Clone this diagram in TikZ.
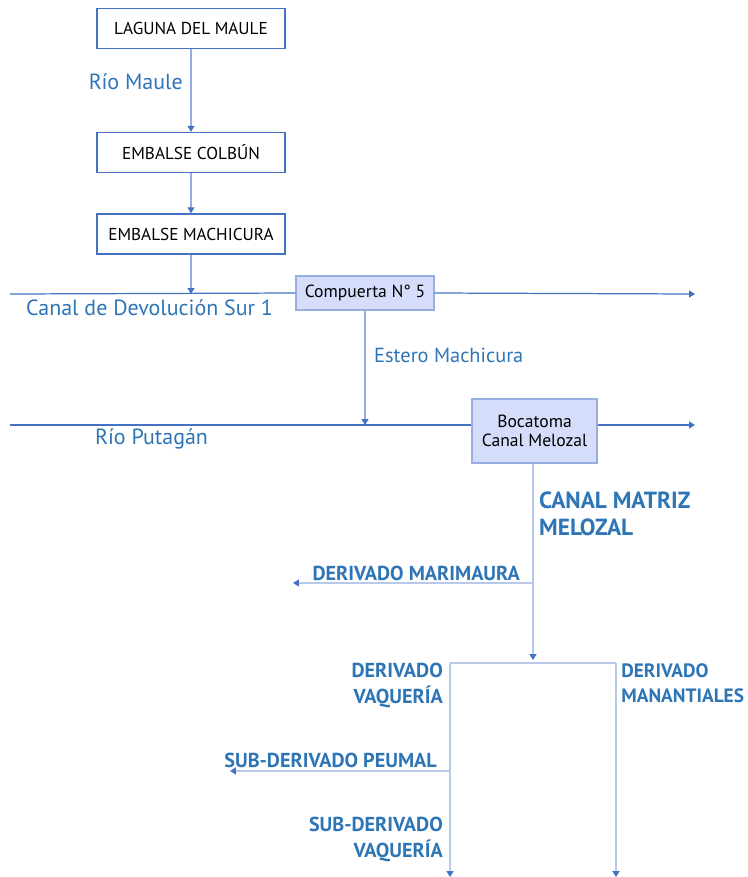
\documentclass[tikz,border=0pt]{standalone}
\usepackage{fontspec}
\setmainfont{PT Sans}
\usetikzlibrary{arrows.meta, positioning}

\definecolor{riverblue}{RGB}{68,114,196}
\definecolor{palelink}{RGB}{150,175,224}
\definecolor{fadelink}{RGB}{184,201,234}
\definecolor{labelblue}{RGB}{46,117,182}
\definecolor{gatefill}{RGB}{214,221,250}

\tikzset{
  station/.style = {draw=riverblue, line width=0.8pt, fill=white,
    minimum width=3.76cm, minimum height=0.8cm, font=\fontsize{9.8}{11}\selectfont},
  gate/.style = {draw=palelink, line width=0.8pt, fill=gatefill, align=center,
    font=\fontsize{10}{11}\selectfont},
  river/.style = {draw=riverblue, line width=0.7pt},
  link/.style = {draw=palelink, line width=0.7pt},
  branch/.style = {draw=fadelink, line width=0.8pt},
  flow/.style = {-{Triangle[length=3.4pt, width=4pt, color=riverblue]}},
  riverlabel/.style = {text=labelblue, font=\fontsize{12.5}{14}\selectfont},
  canallabel/.style = {text=labelblue, font=\fontsize{11.6}{13}\selectfont},
  derlabel/.style = {text=labelblue, font=\bfseries\fontsize{11.5}{14.7}\selectfont},
  matrizlabel/.style = {text=labelblue, font=\bfseries\fontsize{13.3}{15.3}\selectfont}
}

\begin{document}
\begin{tikzpicture}[x=0.02cm, y=-0.02cm]
  \useasboundingbox (0,0) rectangle (748,877);

  % embalses
  \node[station] (laguna) at (191,28.5) {LAGUNA DEL MAULE};
  \node[station] (colbun) at (191,152.5) {EMBALSE COLBÚN};
  \node[station] (machicura) at (191,234) {EMBALSE MACHICURA};

  \draw[link, flow] (laguna) -- (colbun);
  \draw[link, flow] (colbun) -- (machicura);
  \node[riverlabel, anchor=east] (maule) at (189,82) {Río Maule};

  % canal de devolucion
  \coordinate (sur1W) at (10,294);
  \coordinate (sur1E) at (695,294);
  \node[gate, minimum width=2.76cm, minimum height=0.68cm] (compuerta) at (365,293) {Compuerta N° 5};
  \draw[river] (sur1W) -- (compuerta.west);
  \draw[river, flow] (compuerta.east) -- (sur1E);
  \draw[link, flow] (machicura) -- (machicura.south |- sur1W);
  \node[riverlabel, anchor=west] (devolucion) at (20,308) {Canal de Devolución Sur 1};

  % rio putagan
  \coordinate (putaganW) at (10,425);
  \coordinate (putaganE) at (695,425);
  \node[gate, minimum width=2.5cm, minimum height=1.28cm] (bocatoma) at (534.5,431) {Bocatoma\\Canal Melozal};
  \draw[river] (putaganW) -- (bocatoma.west |- putaganW);
  \draw[river, flow] (bocatoma.east |- putaganE) -- (putaganE);
  \draw[link, flow] (compuerta) -- (compuerta.south |- putaganW);
  \node[canallabel, anchor=west] (estero) at (368,355) {Estero Machicura};
  \node[riverlabel, anchor=west] (putagan) at (89,439) {Río Putagán};

  % canal matriz
  \coordinate (split) at (533,660);
  \coordinate (marimaura) at (533,583);
  \coordinate (marimauraW) at (293,583);
  \draw[branch, flow] (bocatoma.south -| split) -- (split);
  \draw[branch, flow] (marimaura) -- (marimauraW);
  \node[matrizlabel, anchor=north west, align=left] (matriz) at (533,486) {CANAL MATRIZ\\MELOZAL};
  \node[derlabel, anchor=east] (marimauralbl) at (526,573) {DERIVADO MARIMAURA};

  % derivados
  \coordinate (vaqueriaN) at (450,663);
  \coordinate (vaqueriaS) at (450,877);
  \coordinate (manantialN) at (616,663);
  \coordinate (manantialS) at (616,877);
  \coordinate (peumal) at (450,771);
  \coordinate (peumalW) at (230,771);
  \draw[branch] (vaqueriaN) -- (manantialN);
  \draw[branch, flow] (vaqueriaN) -- (vaqueriaS);
  \draw[branch, flow] (manantialN) -- (manantialS);
  \draw[branch, flow] (peumal) -- (peumalW);
  \node[derlabel, anchor=north east, align=right] (vaquerialbl) at (449,657) {DERIVADO\\VAQUERÍA};
  \node[derlabel, anchor=north west, align=left, inner xsep=0pt,
    font=\bfseries\fontsize{11}{14.7}\selectfont] (manantiallbl) at (621,657) {DERIVADO\\MANANTIALES};
  \node[derlabel, anchor=east] (peumallbl) at (443,760) {SUB-DERIVADO PEUMAL};
  \node[derlabel, anchor=north east, align=right] (subvaquerialbl) at (449,811) {SUB-DERIVADO\\VAQUERÍA};
\end{tikzpicture}
\end{document}
